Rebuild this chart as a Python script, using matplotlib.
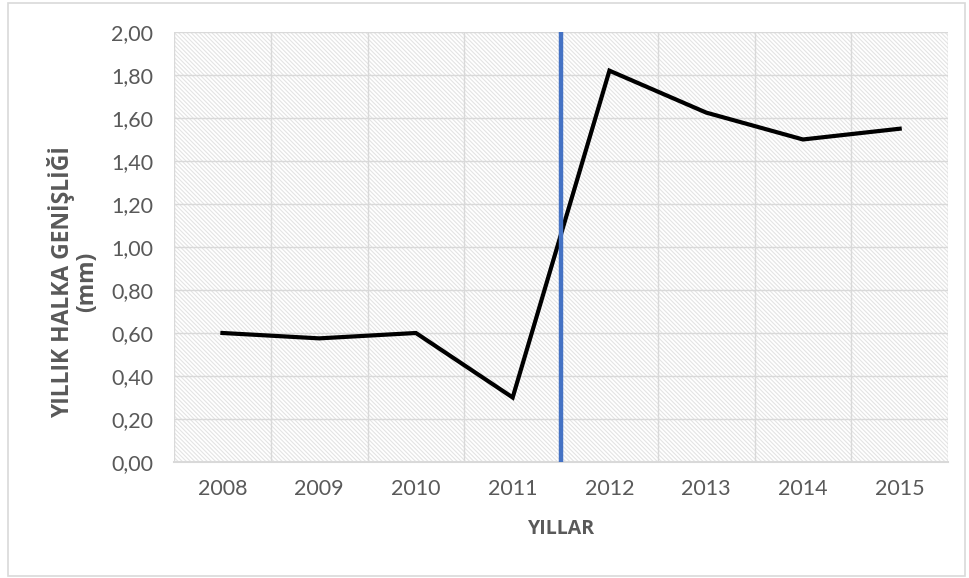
import matplotlib.pyplot as plt
import matplotlib.patches as mpatches
from matplotlib.ticker import FuncFormatter, MultipleLocator

plt.rcParams['font.family'] = ['Lato', 'DejaVu Sans']
plt.rcParams['hatch.color'] = '#e4e4e4'
plt.rcParams['hatch.linewidth'] = 0.8

# data
years = ['2008', '2009', '2010', '2011', '2012', '2013', '2014', '2015']
ring_width = [0.60, 0.575, 0.60, 0.30, 1.82, 1.625, 1.50, 1.55]
break_after = '2011'  # divider between 2011 and 2012

grey = '#595959'
fig = plt.figure(figsize=(9.69, 5.78), dpi=100)
fig.patches.append(mpatches.Rectangle((0.008, 0.004), 0.988, 0.99, transform=fig.transFigure,
                                      fill=False, edgecolor='#d9d9d9', lw=1.2))
ax = fig.add_axes([0.1796, 0.2007, 0.7988, 0.744])

ax.patch.set_facecolor('white')
ax.patch.set_hatch('\\' * 8)
ax.patch.set_edgecolor('#e4e4e4')

x = list(range(len(years)))
ax.plot(x, ring_width, color='black', lw=3, solid_joinstyle='miter', zorder=3)
bx = years.index(break_after) + 0.5
ax.axvline(bx, color='#4472C4', lw=3.2, zorder=4)

ax.set_xlim(-0.5, len(years) - 0.5)
ax.set_ylim(0, 2.0)
ax.yaxis.set_major_locator(MultipleLocator(0.2))
ax.yaxis.set_major_formatter(FuncFormatter(lambda v, p: f'{v:.2f}'.replace('.', ',')))
ax.set_xticks(x)
ax.set_xticklabels(years)
ax.set_xticks([i - 0.5 for i in range(len(years) + 1)], minor=True)

ax.grid(True, which='major', axis='y', color='#d9d9d9', lw=1)
ax.grid(True, which='minor', axis='x', color='#d9d9d9', lw=1)
ax.set_axisbelow(True)

for s in ['top', 'right', 'left']:
    ax.spines[s].set_visible(False)
ax.spines['bottom'].set_color('#d9d9d9')
ax.spines['bottom'].set_linewidth(1.5)

ax.tick_params(which='both', length=0, labelsize=15.5, colors=grey)
ax.tick_params(axis='x', pad=12)
ax.tick_params(axis='y', pad=15)

ax.set_xlabel('YILLAR', fontsize=14, fontweight='bold', color=grey, labelpad=15,
              family=['Open Sans', 'DejaVu Sans'])
# y label placed as figure text so its centre sits where the reference has it
fig.text(0.0753, 0.512, 'YILLIK HALKA GENİŞLİĞİ\n(mm)', rotation=90, ha='center', va='center',
         fontsize=16.5, fontweight='bold', color=grey, linespacing=1.0,
         family=['Open Sans', 'DejaVu Sans'])

fig.savefig('out.png', dpi=100)
